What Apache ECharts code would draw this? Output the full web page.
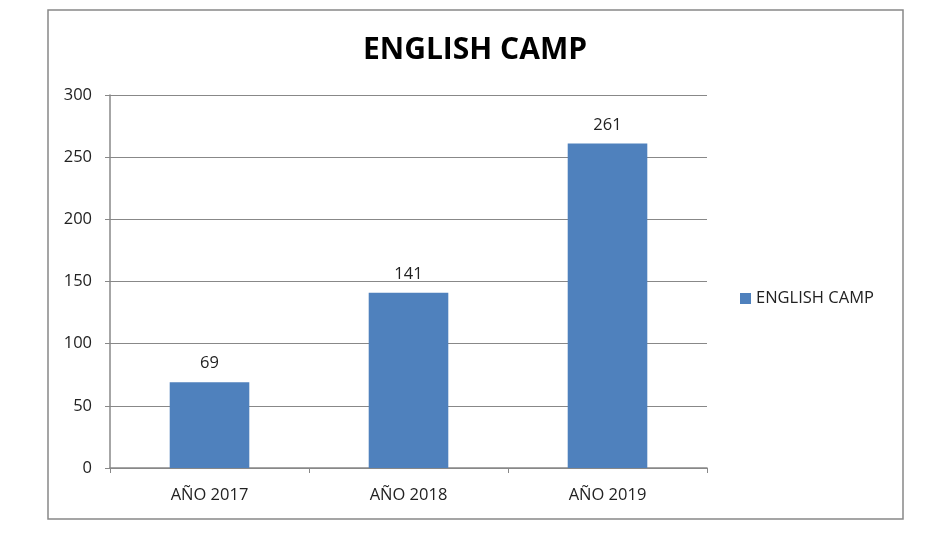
<!DOCTYPE html>
<html>
<head>
<meta charset="utf-8">
<script src="https://cdn.jsdelivr.net/npm/echarts@6/dist/echarts.min.js"></script>
<style>
  html, body { margin: 0; padding: 0; background: #fff; }
  #chart { width: 950px; height: 534px; }
</style>
</head>
<body>
<div id="chart"></div>
<script>
var years = ['AÑO 2017', 'AÑO 2018', 'AÑO 2019'];
var campValues = [69, 141, 261];
var seriesName = 'ENGLISH CAMP';

var myChart = echarts.init(document.getElementById('chart'));
var font = '"Open Sans", "Liberation Sans", sans-serif';
var option = {
  backgroundColor: '#fff',
  animation: false,
  color: ['#4F81BD'],
  title: {
    text: 'ENGLISH CAMP',
    left: 'center',
    top: 30,
    textStyle: { fontFamily: font, fontSize: 30, fontWeight: 'bold', color: '#000' }
  },
  legend: {
    left: 735,
    top: 285,
    itemWidth: 11,
    itemHeight: 11,
    icon: 'rect',
    itemGap: 6,
    data: [seriesName],
    textStyle: { fontFamily: font, fontSize: 16.5, color: '#222' }
  },
  graphic: [{
    type: 'rect',
    shape: { x: 48, y: 10, width: 855, height: 509 },
    style: { fill: 'none', stroke: '#888', lineWidth: 1.5 },
    silent: true
  }],
  grid: { left: 110, right: 243, top: 95, bottom: 66 },
  xAxis: {
    type: 'category',
    data: years,
    axisLine: { lineStyle: { color: '#888', width: 1.5 } },
    axisTick: { show: true, length: 5, lineStyle: { color: '#888' } },
    axisLabel: { fontFamily: font, fontSize: 16.5, color: '#222', margin: 19 }
  },
  yAxis: {
    type: 'value',
    min: 0,
    max: 300,
    interval: 50,
    axisLine: { show: true, lineStyle: { color: '#888', width: 1.5 } },
    axisTick: { show: true, length: 5, lineStyle: { color: '#888' } },
    axisLabel: { fontFamily: font, fontSize: 16.5, color: '#222', margin: 18 },
    splitLine: { lineStyle: { color: '#888', width: 1.2 } }
  },
  series: [{
    name: seriesName,
    type: 'bar',
    data: campValues,
    barWidth: '40%',
    label: {
      show: true,
      position: 'top',
      distance: 10,
      fontFamily: font,
      fontSize: 16.5,
      color: '#222'
    }
  }]
};
myChart.setOption(option);
</script>
</body>
</html>
